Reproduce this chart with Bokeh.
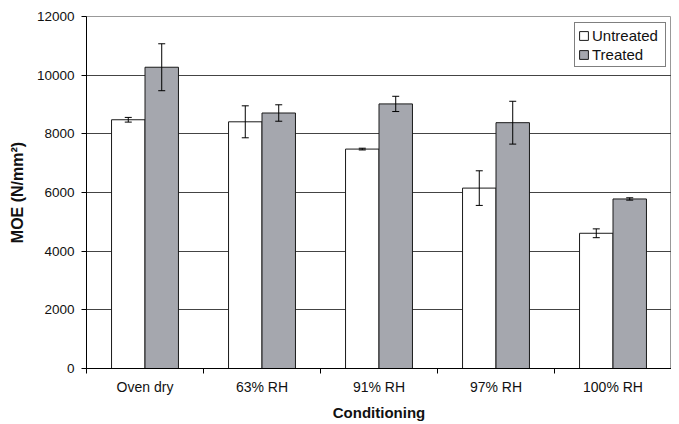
from bokeh.plotting import figure
from bokeh.models import ColumnDataSource, Whisker, TeeHead, FixedTicker, Legend, LegendItem, Range1d
from bokeh.embed import file_html
from bokeh.resources import INLINE

categories = ["Oven dry", "63% RH", "91% RH", "97% RH", "100% RH"]
untreated = [8480, 8410, 7480, 6150, 4610]
untreated_err = [80, 545, 30, 590, 150]
treated = [10270, 8710, 9020, 8380, 5780]
treated_err = [800, 280, 260, 730, 40]
y_ticks = [0, 2000, 4000, 6000, 8000, 10000, 12000]

FONT = "Liberation Sans"
BW = 0.286

n = len(categories)
centers = [i + 0.5 for i in range(n)]
xu = [c - BW / 2 for c in centers]
xt = [c + BW / 2 for c in centers]

su = ColumnDataSource(dict(x=xu, top=untreated,
                           upper=[v + e for v, e in zip(untreated, untreated_err)],
                           lower=[v - e for v, e in zip(untreated, untreated_err)]))
st = ColumnDataSource(dict(x=xt, top=treated,
                           upper=[v + e for v, e in zip(treated, treated_err)],
                           lower=[v - e for v, e in zip(treated, treated_err)]))

p = figure(frame_width=585, frame_height=352, output_backend="svg", toolbar_location=None,
           x_range=Range1d(0, n), y_range=Range1d(0, 12000),
           min_border_left=86, min_border_right=0, min_border_top=16, min_border_bottom=50)
p.background_fill_color = "white"
p.border_fill_color = "white"
p.outline_line_color = "#999999"

ru = p.vbar(x="x", top="top", width=BW, source=su, fill_color="white", line_color="#1a1a1a", line_width=1)
rt = p.vbar(x="x", top="top", width=BW, source=st, fill_color="#a5a7ae", line_color="#1a1a1a", line_width=1)

for s in (su, st):
    w = Whisker(source=s, base="x", upper="upper", lower="lower", line_color="black", line_width=1,
                upper_head=TeeHead(size=7, line_color="black", line_width=1),
                lower_head=TeeHead(size=7, line_color="black", line_width=1), level="overlay")
    p.add_layout(w)

# y axis
p.yaxis.ticker = FixedTicker(ticks=y_ticks)
p.yaxis.minor_tick_line_color = None
p.yaxis.major_tick_out = 5
p.yaxis.major_tick_in = 0
p.yaxis.major_label_text_font = FONT
p.yaxis.major_label_text_font_size = "13.5px"
p.yaxis.major_label_text_color = "#111111"
p.yaxis.major_label_standoff = 7
p.yaxis.axis_label = "MOE (N/mm²)"
p.yaxis.axis_label_text_font = FONT
p.yaxis.axis_label_text_font_size = "16px"
p.yaxis.axis_label_text_font_style = "bold"
p.yaxis.axis_label_text_color = "#111111"
p.yaxis.axis_label_standoff = 8
p.yaxis.axis_line_color = "black"
p.yaxis.major_tick_line_color = "black"

# x axis
p.xaxis.ticker = FixedTicker(ticks=centers, minor_ticks=list(range(n + 1)))
p.xaxis.major_label_overrides = {c: name for c, name in zip(centers, categories)}
p.xaxis.major_tick_out = 0
p.xaxis.major_tick_in = 0
p.xaxis.minor_tick_out = 5
p.xaxis.minor_tick_in = 0
p.xaxis.minor_tick_line_color = "black"
p.xaxis.major_label_text_font = FONT
p.xaxis.major_label_text_font_size = "14px"
p.xaxis.major_label_text_color = "#111111"
p.xaxis.major_label_standoff = 5
p.xaxis.axis_label = "Conditioning"
p.xaxis.axis_label_text_font = FONT
p.xaxis.axis_label_text_font_size = "15px"
p.xaxis.axis_label_text_font_style = "bold"
p.xaxis.axis_label_text_color = "#111111"
p.xaxis.axis_label_standoff = 6
p.xaxis.axis_line_color = "black"

p.xgrid.grid_line_color = None
p.ygrid.ticker = FixedTicker(ticks=y_ticks)
p.ygrid.grid_line_color = "#444444"
p.ygrid.grid_line_width = 1

legend = Legend(items=[LegendItem(label="Untreated", renderers=[ru]),
                       LegendItem(label="Treated", renderers=[rt])],
                location=(488, 301))
legend.label_text_font = FONT
legend.label_text_font_size = "15px"
legend.label_text_color = "#111111"
legend.glyph_width = 11
legend.glyph_height = 11
legend.label_height = 18
legend.label_width = 70
legend.label_standoff = 3
legend.spacing = 1
legend.padding = 3
legend.margin = 0
legend.border_line_color = "black"
legend.border_line_width = 1
legend.background_fill_alpha = 1
p.add_layout(legend)

open("out.html", "w").write(file_html(p, INLINE))
